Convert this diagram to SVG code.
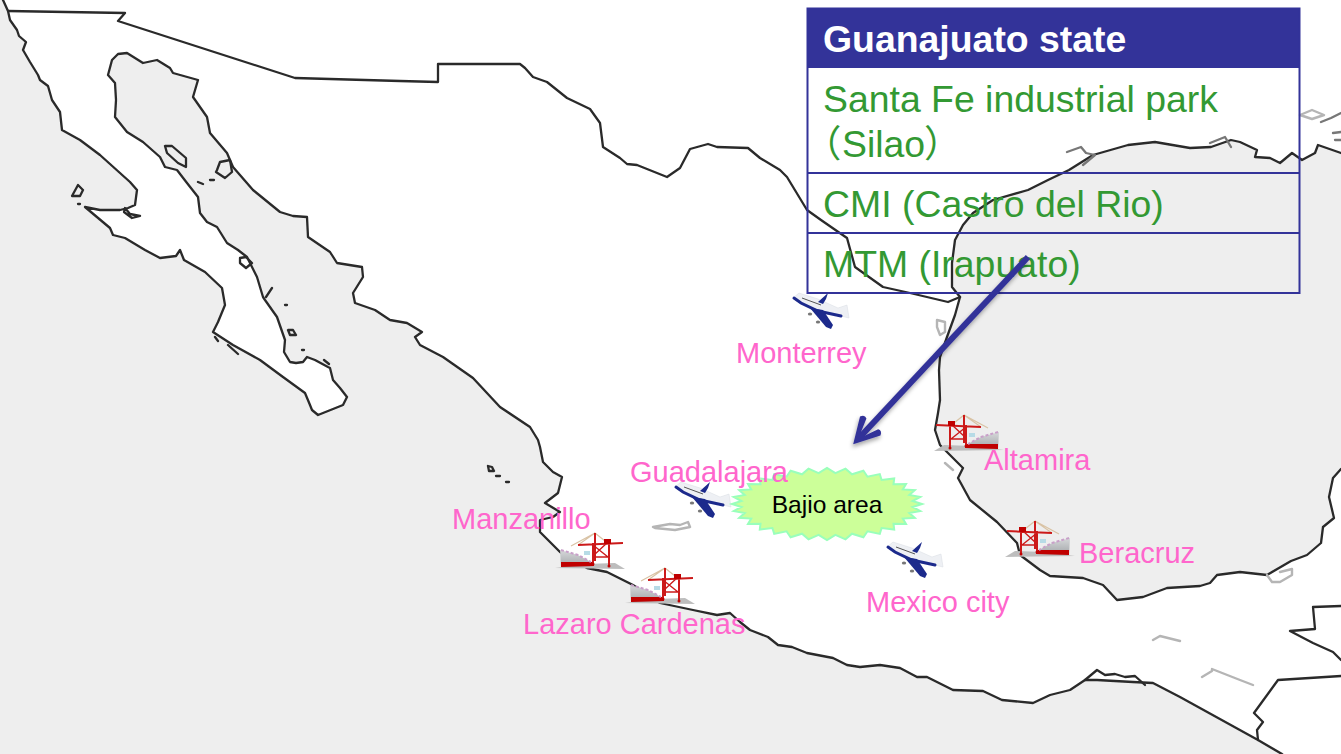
<svg xmlns="http://www.w3.org/2000/svg" xmlns:xlink="http://www.w3.org/1999/xlink" width="1341" height="754" viewBox="0 0 1341 754">
<style>
text{font-family:"Liberation Sans",Arial,"Noto Sans CJK JP",sans-serif}
.c{fill:none;stroke:#2a2a2a;stroke-width:2.3;stroke-linejoin:round;stroke-linecap:round}
.m{fill:none;stroke:#777;stroke-width:2.3;stroke-linejoin:round;stroke-linecap:round}
.l{fill:none;stroke:#b5b5b5;stroke-width:2.4;stroke-linejoin:round;stroke-linecap:round}
.lab{font-size:29px;fill:#ff66cc}
.hd{font-size:37.4px;font-weight:bold;fill:#fff}
.row{font-size:37.4px;fill:#339933}
.tb{fill:none;stroke:#333399;stroke-width:2}
</style>
<defs>
<filter id="soft" x="-5%" y="-5%" width="110%" height="110%"><feGaussianBlur stdDeviation="0.6"/></filter>
<filter id="sh" x="-20%" y="-20%" width="140%" height="140%"><feDropShadow dx="-1" dy="3" stdDeviation="2" flood-color="#000" flood-opacity="0.35"/></filter>
<linearGradient id="hull" x1="0" y1="0" x2="0" y2="1"><stop offset="0" stop-color="#d6d8da"/><stop offset="1" stop-color="#a2a5a8"/></linearGradient>
<marker id="head" markerUnits="userSpaceOnUse" viewBox="-32 -17 36 34" refX="-10" refY="0" markerWidth="36" markerHeight="34" orient="auto">
<path d="M0 0L-25-14Q-30-12-28-8L-14-2.5V2.5L-28 8Q-30 12-25 14Z" fill="#333399"/>
</marker>
<g id="plane">
<path d="M6 0L25 6L45 15L54 12L56 25L48 23L25 19L8 11L0 5Z" fill="#eef0f4" stroke="#d8dce2" stroke-width=".5"/>
<path d="M1 5L8 10L25 18L48 23" fill="none" stroke="#1c2a8c" stroke-width="3" stroke-linecap="round"/>
<path d="M17 15L30 17L40 32L38 36L33 34Z" fill="#1c2a8c"/>
<path d="M25 9L35 0L33 6L30 11Z" fill="#1c2a8c"/>
<path d="M9 5L28 12" stroke="#555" stroke-width="1" fill="none"/>
<ellipse cx="17" cy="21" rx="2.2" ry="1.6" fill="#777"/><ellipse cx="25" cy="29" rx="2.2" ry="1.6" fill="#777"/>
</g>
<g id="port">
<path d="M-3 35L28 31L57 30L67 36Z" fill="#bdbdbd"/>
<path d="M2 17L20 22L33 29L36 33L3 34Z" fill="url(#hull)"/>
<path d="M3 29L36 29L36 33L3 34Z" fill="#c00000"/>
<path d="M3 17L20 22L33 29" fill="none" stroke="#c9a0c9" stroke-width="2" stroke-dasharray="3 2"/>
<rect x="26" y="18" width="6" height="4" fill="#b7dbe6"/>
<path d="M13 13L37 0M20 12L37 0M37 0L47 8" stroke="#d9c3a5" stroke-width="1.2" fill="none"/>
<path d="M20 12L65 10M35 10V31M37 0V28M51 9V33" stroke="#cc1a1a" stroke-width="2" fill="none"/>
<path d="M35 12L50 24M35 24H50M36 22L50 9" stroke="#cc1a1a" stroke-width="1.4" fill="none"/>
<rect x="46" y="6" width="7" height="5" fill="#c00000"/>
<circle cx="35" cy="31" r="1.5" fill="#c00000"/><circle cx="51" cy="33" r="1.5" fill="#c00000"/>
</g>
</defs>

<rect id="sea" width="1341" height="754" fill="#eeeeee"/>
<g id="map" filter="url(#soft)">
<path id="land" fill="#fff" stroke="#2a2a2a" stroke-width="2.3" stroke-linejoin="round" d="M3-10L3 0L8 11L10 20L17 30L19 36L26 42L23 50L30 62L38 75L40 80L48 86L52 100L60 112L62 130L80 140L100 155L120 173L130 182L137 190L135 205L128 208L120 210L100 210L85 207L110 228L113 235L125 238L145 250L160 258L176 256L180 250L184 260L205 272L222 288L225 305L218 322L213 332L233 345L260 360L283 377L305 393L310 405L312 410L318 415L343 405L347 397L340 388L333 380L330 368L328 367L315 360L307 357L303 362L296 363L290 362L284 352L285 340L277 317L265 300L263 297L257 277L247 257L238 250L227 243L217 227L207 222L200 213L198 197L187 183L177 170L165 167L163 163L160 157L143 142L127 132L115 117L116 100L115 83L108 75L112 60L118 54L127 53L143 63L157 60L170 68L173 73L198 80L193 97L207 117L210 133L227 153L233 167L253 190L280 212L293 216L307 217L308 237L330 252L337 263L362 267L363 277L353 293L355 303L375 310L390 320L407 323L422 332L415 337L420 345L443 357L473 378L500 407L530 427L538 440L540 447L543 462L553 472L562 477L558 493L545 503L560 512L553 517L540 520L540 532L560 552L587 568L607 572L633 585L660 603L693 610L717 615L730 613L740 622L750 630L768 637L778 645L792 647L807 653L833 658L847 665L860 667L880 665L900 668L917 677L927 677L953 690L983 691L1002 700L1033 703L1050 695L1070 690L1085 680L1097 680L1133 682L1153 683L1180 697L1258 740L1282 754L1300 770L1360 770L1360 469L1341 469L1333 478L1329 497L1334 518L1323 527L1321 543L1307 555L1291 561L1267 575L1240 572L1217 575L1210 583L1200 586L1167 588L1143 597L1117 600L1103 585L1083 578L1050 576L1040 570L1020 555L1017 543L997 522L970 500L958 478L963 468L950 455L940 445L935 430L938 413L940 400L939 370L940 357L947 337L955 315L960 297L952 287L952 263L955 240L963 225L973 213L993 200L1028 190L1048 180L1069 170L1093 155L1128 145L1155 142L1190 148L1211 147L1231 140L1240 142L1257 150L1255 157L1270 158L1280 163L1292 153L1302 160L1315 153L1318 145L1341 153L1360 153L1360-10Z"/>
<path class="c" d="M8 11L125 13L118 21L295 78L400 81L438 82L438 64L520 64L525 68L533 77L547 82L567 98L590 109L600 123L603 147L620 158L627 164L637 165L667 177L680 168L690 149L708 144L717 147L748 148L760 158L780 170L787 177L807 210L821 220L847 238L855 267L883 287L910 293L948 302L960 297"/>
<path class="c" d="M1341 660L1333 652L1313 643L1290 631L1315 629L1313 607L1341 606M1258 740L1257 730L1263 722L1254 713L1278 680L1341 676"/>
<path class="c" d="M1085 680L1097 670L1105 675L1115 674L1125 677L1135 676L1145 685"/>
<path class="c" d="M72 196L78 185L83 190L80 196ZM78 204H80M165 146L172 146L186 158L186 167L178 163L167 153ZM198 182L203 184M210 180L214 180M217 170L220 162L230 160L232 172L225 178L216 172ZM125 208L130 214L140 216L132 218L124 212ZM240 258L246 257L252 263L246 268L240 263ZM266 297L272 288M285 305H287M288 330L293 330L296 335L290 335ZM302 350H304M324 360L329 364M215 337L218 341M228 345L238 354M488 466L492 467L494 471L489 471ZM496 476H500M506 482H509"/>
<path class="l" d="M653 527L670 524L680 525L688 522L690 527L675 530L655 528ZM1153 640L1160 636L1180 641M1202 677L1212 671L1212 669L1240 680L1253 685M1267 575L1272 582L1280 582L1292 575L1292 569L1280 572M937 320L945 322L945 332L940 335L937 327ZM945 463L953 470M1300 115L1312 110L1324 115L1312 119Z"/>
<path class="m" d="M1067 152L1081 147L1086 153L1095 155L1083 165M1210 143L1225 137L1231 147M1321 122L1331 118L1341 113M1333 133L1341 132M1335 140L1341 140"/>
</g>

<g id="ports">
<use id="port-manzanillo" xlink:href="#port" href="#port" transform="translate(558,533)"/>
<use id="port-lazaro" xlink:href="#port" href="#port" transform="translate(628,568)"/>
<use id="port-altamira" xlink:href="#port" href="#port" transform="translate(1001,415) scale(-1,1)"/>
<use id="port-beracruz" xlink:href="#port" href="#port" transform="translate(1072,521) scale(-1,1)"/>
</g>
<g id="planes">
<use id="plane-monterrey" xlink:href="#plane" href="#plane" transform="translate(793,293)"/>
<use id="plane-guadalajara" xlink:href="#plane" href="#plane" transform="translate(675,482)"/>
<use id="plane-mexico" xlink:href="#plane" href="#plane" transform="translate(887,542)"/>
</g>

<g id="bajio" transform="translate(827,504)">
<polygon fill="#ccff99" stroke="#99ffbb" stroke-width="2" points="95,0 85.6,3 93.2,7 82.3,9 87.8,13.8 75.8,14.6 79,20 66.5,19.7 67.2,25.5 54.6,24 52.8,29.9 40.5,27.3 36.4,33.3 25,29.7 18.5,35.3 8.4,30.9 0,36 -8.4,30.9 -18.5,35.3 -25,29.7 -36.4,33.3 -40.5,27.3 -52.8,29.9 -54.6,24 -67.2,25.5 -66.5,19.7 -79,20 -75.8,14.6 -87.8,13.8 -82.3,9 -93.2,7 -85.6,3 -95,0 -85.6,-3 -93.2,-7 -82.3,-9 -87.8,-13.8 -75.8,-14.6 -79,-20 -66.5,-19.7 -67.2,-25.5 -54.6,-24 -52.8,-29.9 -40.5,-27.3 -36.4,-33.3 -25,-29.7 -18.5,-35.3 -8.4,-30.9 0,-36 8.4,-30.9 18.5,-35.3 25,-29.7 36.4,-33.3 40.5,-27.3 52.8,-29.9 54.6,-24 67.2,-25.5 66.5,-19.7 79,-20 75.8,-14.6 87.8,-13.8 82.3,-9 93.2,-7 85.6,-3"/>
<text x="0" y="9" text-anchor="middle" font-size="24.6" fill="#000">Bajio area</text>
</g>

<g id="labels">
<text class="lab" x="736" y="363">Monterrey</text>
<text class="lab" x="630" y="482">Guadalajara</text>
<text class="lab" x="984" y="470">Altamira</text>
<text class="lab" x="1079" y="563">Beracruz</text>
<text class="lab" x="866" y="612">Mexico city</text>
<text class="lab" x="452" y="529">Manzanillo</text>
<text class="lab" x="523" y="634">Lazaro Cardenas</text>
</g>

<g id="table">
<rect x="807" y="8" width="493" height="60" fill="#333399"/>
<rect class="tb" x="807.5" y="8.5" width="492" height="284.5"/>
<path class="tb" d="M807 173H1300M807 233H1300"/>
<text class="hd" x="823" y="52">Guanajuato state</text>
<text class="row" x="823" y="112">Santa Fe industrial park</text>
<text class="row" y="157"><tspan x="804">（</tspan><tspan x="842">Silao</tspan><tspan x="924">）</tspan></text>
<text class="row" x="823" y="217">CMI (Castro del Rio)</text>
<text class="row" x="823" y="277">MTM (Irapuato)</text>
</g>

<g id="connectors">
<line x1="1028" y1="257" x2="860" y2="437" stroke="#333399" stroke-width="6" marker-end="url(#head)" filter="url(#sh)"/>
</g>
</svg>
